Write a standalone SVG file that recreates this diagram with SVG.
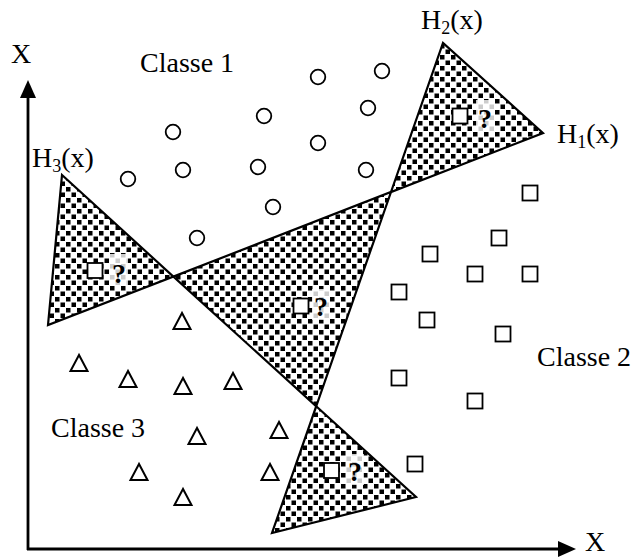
<svg xmlns="http://www.w3.org/2000/svg" width="637" height="557" viewBox="0 0 637 557">
<style>
text{font-family:"Liberation Serif","Times New Roman",serif;font-size:28px;fill:#000}
.sub{font-size:18px}
.q{font-weight:bold;font-size:28px}
.tri{fill:url(#dots);stroke:#000;stroke-width:2.2;stroke-linejoin:miter}
.c{fill:#fff;stroke:#000;stroke-width:1.8}
.s{fill:#fff;stroke:#000;stroke-width:1.8}
.t{fill:#fff;stroke:#000;stroke-width:2;stroke-linejoin:miter}
.axis{stroke:#000;stroke-width:2.8;fill:none}
.qbg{fill:#fff;opacity:0.8}
</style>
<defs>
<pattern id="dots" width="11" height="11" patternUnits="userSpaceOnUse">
<rect width="11" height="11" fill="#fff"/>
<rect x="0" y="0" width="4.5" height="4.5" fill="#000"/>
<rect x="5.5" y="5.5" width="4.5" height="4.5" fill="#000"/>
</pattern>
<marker id="arr" markerWidth="18" markerHeight="16" refX="0" refY="8" orient="auto" markerUnits="userSpaceOnUse">
<path d="M0,0 L18,8 L0,16 Z" fill="#000"/>
</marker>
</defs>
<g id="regions">
<polygon id="t1" class="tri" points="62,175 48,325 173.4,276.6"/>
<polygon id="t2" class="tri" points="173.4,276.6 391,192 316.2,406.3"/>
<polygon id="t3" class="tri" points="391,192 443,43 543,133"/>
<polygon id="t4" class="tri" points="316.2,406.3 416,497 272,533"/>
</g>
<g id="connectors">
<line class="axis" x1="28" y1="550" x2="28" y2="98" marker-end="url(#arr)"/>
<line class="axis" x1="27" y1="549" x2="558" y2="549" marker-end="url(#arr)"/>
</g>
<g id="classe1">
<circle class="c" cx="318" cy="77" r="7.3"/>
<circle class="c" cx="382" cy="71" r="7.3"/>
<circle class="c" cx="264" cy="116" r="7.3"/>
<circle class="c" cx="368" cy="108" r="7.3"/>
<circle class="c" cx="173" cy="132" r="7.3"/>
<circle class="c" cx="318" cy="143" r="7.3"/>
<circle class="c" cx="128" cy="179" r="7.3"/>
<circle class="c" cx="183" cy="170" r="7.3"/>
<circle class="c" cx="258" cy="167" r="7.3"/>
<circle class="c" cx="366" cy="170" r="7.3"/>
<circle class="c" cx="273" cy="207" r="7.3"/>
<circle class="c" cx="197" cy="238" r="7.3"/>
</g>
<g id="classe2">
<rect class="s" x="522.5" y="185.5" width="15" height="15"/>
<rect class="s" x="491.5" y="230.5" width="15" height="15"/>
<rect class="s" x="422.5" y="246.5" width="15" height="15"/>
<rect class="s" x="467.5" y="266.5" width="15" height="15"/>
<rect class="s" x="522.5" y="266.5" width="15" height="15"/>
<rect class="s" x="391.5" y="284.5" width="15" height="15"/>
<rect class="s" x="419.5" y="312.5" width="15" height="15"/>
<rect class="s" x="495.5" y="326.5" width="15" height="15"/>
<rect class="s" x="391.5" y="370.5" width="15" height="15"/>
<rect class="s" x="467.5" y="393.5" width="15" height="15"/>
<rect class="s" x="407.5" y="456.5" width="15" height="15"/>
</g>
<g id="classe3">
<polygon class="t" points="182,313 173.5,329 190.5,329"/>
<polygon class="t" points="79,355 70.5,371 87.5,371"/>
<polygon class="t" points="128,371 119.5,387 136.5,387"/>
<polygon class="t" points="183,378 174.5,394 191.5,394"/>
<polygon class="t" points="233,373 224.5,389 241.5,389"/>
<polygon class="t" points="197,428 188.5,444 205.5,444"/>
<polygon class="t" points="279,422 270.5,438 287.5,438"/>
<polygon class="t" points="139,464 130.5,480 147.5,480"/>
<polygon class="t" points="270,464 261.5,480 278.5,480"/>
<polygon class="t" points="183,489 174.5,505 191.5,505"/>
</g>
<g id="unknowns">
<rect class="s" x="87.5" y="263" width="15" height="15"/>
<rect class="qbg" x="110" y="254" width="18" height="31"/>
<text class="q" x="112" y="283">?</text>
<rect class="s" x="293.5" y="298.5" width="15" height="15"/>
<rect class="qbg" x="312" y="289" width="18" height="31"/>
<text class="q" x="314" y="316">?</text>
<rect class="s" x="452.5" y="108.5" width="15" height="15"/>
<rect class="qbg" x="476" y="100" width="18" height="31"/>
<text class="q" x="478" y="128">?</text>
<rect class="s" x="324" y="463" width="15" height="15"/>
<rect class="qbg" x="346" y="454" width="18" height="31"/>
<text class="q" x="348" y="481">?</text>
</g>
<g id="labels">
<text x="11" y="63">X</text>
<text x="585" y="551">X</text>
<text x="140" y="72">Classe 1</text>
<text x="537" y="366">Classe 2</text>
<text x="51" y="437">Classe 3</text>
<text x="421" y="29">H<tspan class="sub" dy="5">2</tspan><tspan dy="-5">(x)</tspan></text>
<text x="557" y="143">H<tspan class="sub" dy="5">1</tspan><tspan dy="-5">(x)</tspan></text>
<text x="32" y="167">H<tspan class="sub" dy="5">3</tspan><tspan dy="-5">(x)</tspan></text>
</g>
</svg>
